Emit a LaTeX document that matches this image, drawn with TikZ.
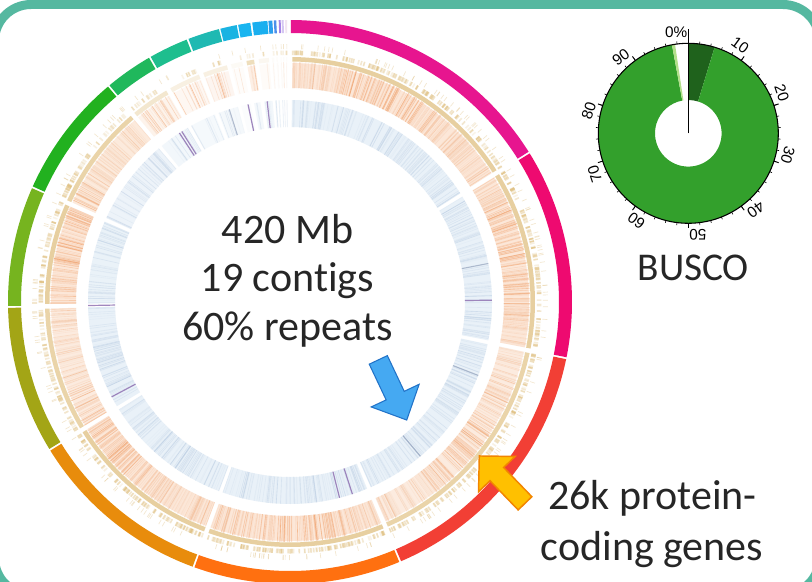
\documentclass[tikz,border=0pt]{standalone}
\usepackage{fontspec}
\setmainfont{Carlito}[Ligatures={NoCommon,NoRequired,NoContextual}]
\newfontfamily\lblfont{Liberation Sans}
\definecolor{frameteal}{HTML}{55B8A0}
\definecolor{txt}{HTML}{262626}
\definecolor{sA}{HTML}{E7158F}
\definecolor{sB}{HTML}{EE0A70}
\definecolor{sC}{HTML}{F23F35}
\definecolor{sD}{HTML}{FF7010}
\definecolor{sE}{HTML}{E88C0C}
\definecolor{sF}{HTML}{A3A516}
\definecolor{sG}{HTML}{76B41F}
\definecolor{sH}{HTML}{22B11F}
\definecolor{sI}{HTML}{20B85C}
\definecolor{sJ}{HTML}{1EBE8E}
\definecolor{sK}{HTML}{1FB9B2}
\definecolor{sL}{HTML}{1AB3E2}
\definecolor{sM}{HTML}{19B5F0}
\definecolor{sN}{HTML}{1AAFEF}
\definecolor{sO}{HTML}{2A9FEE}
\definecolor{sP}{HTML}{4C8FEA}
\definecolor{sQ}{HTML}{A484E6}
\definecolor{sR}{HTML}{D5C6F2}
\definecolor{sS}{HTML}{F2E4F2}
\definecolor{peach}{HTML}{FBDCC6}
\definecolor{orln}{HTML}{F0965A}
\definecolor{tanc}{HTML}{DEBC78}
\definecolor{bluebase}{HTML}{E1ECF6}
\definecolor{blueln}{HTML}{A9C0DC}
\definecolor{purpln}{HTML}{8A6AAE}
\definecolor{darkln}{HTML}{8595B2}
\definecolor{bgreen}{HTML}{33A02C}
\definecolor{bdark}{HTML}{1F621C}
\definecolor{bfrag}{HTML}{B2DF8A}
\definecolor{arrblue}{HTML}{45A9F2}
\definecolor{arrblueb}{HTML}{2273C8}
\definecolor{arryel}{HTML}{FFC000}
\definecolor{arryelb}{HTML}{F28500}
\newcommand\annsec[5]{\fill[#1] (#2:#4) arc[start angle=#2,end angle=#3,radius=#4] -- (#3:#5) arc[start angle=#3,end angle=#2,radius=#5] -- cycle;}
\tikzset{
  bigtext/.style={font=\fontsize{31.5}{38}\selectfont, text=txt, anchor=base, inner sep=0pt},
  buscotext/.style={font=\fontsize{29.5}{34}\selectfont, text=txt, anchor=base, inner sep=0pt},
  ticklabel/.style={font=\lblfont\fontsize{11.5}{13}\selectfont, anchor=south east, inner sep=0.6pt},
  orline/.style={orln, line width=0.45pt},
  blline/.style={blueln, line width=0.45pt},
  tanline/.style={tanc},
  bluearrow/.style={fill=arrblue, draw=arrblueb, line width=0.8pt, line join=miter},
  yelarrow/.style={fill=arryel, draw=arryelb, line width=1.1pt, line join=miter}
}
\begin{document}
\begin{tikzpicture}[x=0.75pt,y=0.75pt]
\useasboundingbox (0,0) rectangle (812,-581);
\clip (0,0) rectangle (812,-581);
\fill[white] (0,0) rectangle (812,-581);
\pgfmathsetseed{4242}
% ---------------- circos plot ----------------
\begin{scope}[shift={(290,-302)}]
\foreach \sa/\ea/\colv/\dO/\dB/\dT in {
 89.8/32.2/sA/0.9/0.8/1,
 31.8/-11.3/sB/0.9/0.8/1,
 -11.7/-66.8/sC/0.75/0.8/0.9,
 -67.2/-109.8/sD/0.9/0.8/1,
 -110.2/-148.2/sE/0.9/0.8/1,
 -148.6/-178.8/sF/0.75/0.8/0.9,
 180.8/156.2/sG/0.9/0.75/1,
 155.8/130.2/sH/0.8/0.65/0.9,
 129.8/120.0/sI/0.45/0.45/0.5,
 119.6/111.5/sJ/0.3/0.35/0.3,
 111.1/104.6/sK/0.35/0.4/0.3,
 104.3/100.9/sL/0.1/0.15/0.1,
 100.6/98.1/sM/0.6/0.4/0.7,
 97.7/94.6/sN/0.15/0.45/0.15,
 94.4/93.6/sO/0.05/0.5/0.05,
 93.3/92.8/sP/0.05/0.4/0.05,
 92.3/91.9/sQ/0.05/0.3/0.05,
 91.7/91.3/sR/0.05/0.2/0.05,
 91.0/90.6/sS/0.05/0.2/0.05}{
  \annsec{\colv}{\sa}{\ea}{269}{282}
  \pgfmathsetmacro\spanw{\sa-\ea}
  \pgfmathsetmacro\mg{min(0.35,0.2*\spanw)}
  \pgfmathsetmacro\lo{\ea+\mg}
  \pgfmathsetmacro\hi{\sa-\mg}
  \pgfmathsetmacro\spanv{\hi-\lo}
  \pgfmathsetmacro\po{0.75*\dO}
  \pgfmathsetmacro\bo{0.9*\dB}
  \pgfmathsetmacro\tq{0.7*\dT}
  \annsec{peach,opacity=\po}{\hi}{\lo}{214}{239}
  \annsec{bluebase,opacity=\bo}{\hi}{\lo}{175}{202}
  \annsec{tanc,opacity=\tq}{\hi}{\lo}{240.5}{245}
  \pgfmathtruncatemacro\nl{max(1,round(\spanv*6*\dO))}
  \foreach \k in {1,...,\nl}{
    \pgfmathsetmacro\angv{\lo+rnd*\spanv}
    \pgfmathsetmacro\opv{(0.1+0.55*rnd*rnd)*(0.7+0.3*sin(7*\angv))}
    \draw[orline,opacity=\opv] (\angv:214) -- (\angv:240);
  }
  \pgfmathtruncatemacro\nb{max(1,round(\spanv*3*\dB))}
  \foreach \k in {1,...,\nb}{
    \pgfmathsetmacro\angv{\lo+rnd*\spanv}
    \pgfmathsetmacro\opv{0.05+0.25*rnd}
    \draw[blline,opacity=\opv] (\angv:175) -- (\angv:202);
  }
  \pgfmathtruncatemacro\nt{max(1,round(\spanv*2.6*\dT))}
  \foreach \k in {1,...,\nt}{
    \pgfmathsetmacro\angv{\lo+rnd*\spanv}
    \pgfmathsetmacro\opv{0.15+0.35*rnd}
    \draw[tanline,line width=1.2pt,opacity=\opv] (\angv:247) -- (\angv:251.5);
  }
  \pgfmathtruncatemacro\ns{max(1,round(\spanv*0.7*\dT))}
  \foreach \k in {1,...,\ns}{
    \pgfmathsetmacro\angv{\lo+rnd*\spanv}
    \draw[tanline,line width=0.5pt,opacity=0.35] (\angv:253) -- (\angv:258);
  }
}
\foreach \angv in {96.5,102,122.4,123.2,181,208,0.5,-72,-75.8}{
  \draw[purpln,line width=0.9pt,opacity=0.8] (\angv:175) -- (\angv:202);
}
\foreach \angv in {107.5,-49.8,-21.3,11}{
  \draw[darkln,line width=0.8pt,opacity=0.6] (\angv:175) -- (\angv:202);
}
\end{scope}
% ---------------- center text ----------------
\node[bigtext] (t1) at (287.5,-243.3) {420 Mb};
\node[bigtext] (t2) at (287.5,-291.7) {19 contigs};
\node[bigtext] (t3) at (287.5,-340) {60\% repeats};
\node[bigtext] (t4) at (652.5,-509.3) {26k protein-};
\node[bigtext] (t5) at (652,-560) {coding genes};
% ---------------- arrows ----------------
\begin{scope}[shift={(378.3,-359.9)}, rotate=-64.7]
  \draw[bluearrow] (0,10) -- (39.5,10) -- (39.5,26.5) -- (66.5,0) -- (39.5,-26.5) -- (39.5,-10) -- (0,-10) -- cycle;
\end{scope}
\begin{scope}[shift={(525,-503.3)}, rotate=134]
  \draw[yelarrow] (0,9.5) -- (40.6,9.5) -- (40.6,25.4) -- (65.8,0) -- (40.6,-25.4) -- (40.6,-9.5) -- (0,-9.5) -- cycle;
\end{scope}
% ---------------- BUSCO donut ----------------
\begin{scope}[shift={(688.3,-133.3)}]
  \annsec{bdark}{90}{73}{33.3}{90}
  \annsec{bgreen}{73}{-259.5}{33.3}{90}
  \annsec{bfrag}{-259.5}{-261.5}{33.3}{90}
  \draw[line width=0.8pt] (0,0) circle[radius=90];
  \foreach \i in {0,...,49}{
    \draw[line width=0.45pt] ({90-\i*7.2}:90) -- ({90-\i*7.2}:92.5);
  }
  \foreach \i in {0,...,9}{
    \draw[line width=0.7pt] ({90-\i*36}:90) -- ({90-\i*36}:95);
  }
  \foreach \i/\t in {0/0\%,1/10,2/20,3/30,4/40,5/50,6/60,7/70,8/80,9/90}{
    \node[ticklabel, rotate={-\i*36}] (bl\i) at ({90-\i*36}:95) {\t};
  }
  \draw[line width=1.1pt] (0,0) -- (0,104);
\end{scope}
\node[buscotext] (busco) at (693.3,-280) {BUSCO};
% ---------------- frame ----------------
\draw[frameteal, line width=6.75pt, rounded corners=27.4pt] (-5.5,-4.5) rectangle (819.5,-594.5);
\end{tikzpicture}
\end{document}
